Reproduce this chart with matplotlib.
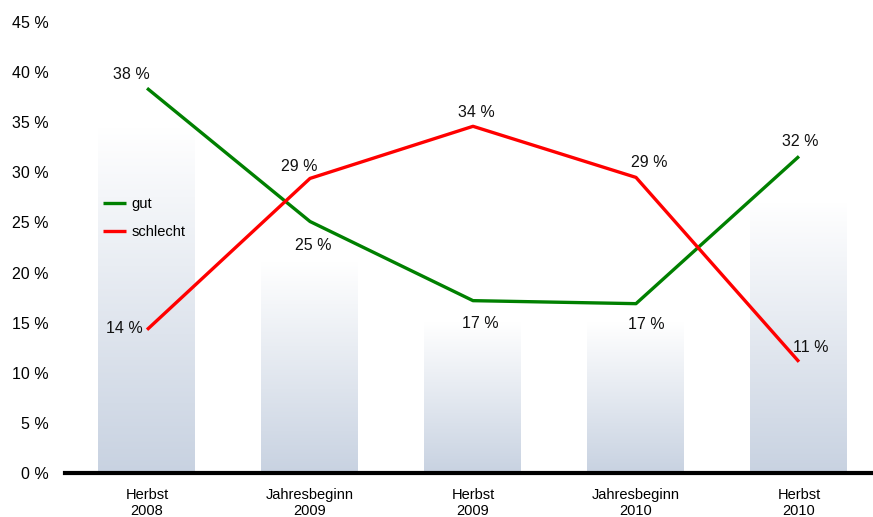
import numpy as np
import matplotlib
matplotlib.use("Agg")
import matplotlib.pyplot as plt
from matplotlib.colors import LinearSegmentedColormap

plt.rcParams['font.family'] = ['Liberation Sans', 'DejaVu Sans']

categories = ["Herbst\n2008", "Jahresbeginn\n2009", "Herbst\n2009", "Jahresbeginn\n2010", "Herbst\n2010"]
gut = [38.4, 25.1, 17.2, 16.9, 31.6]
schlecht = [14.3, 29.4, 34.6, 29.5, 11.1]
gut_labels = ["38 %", "25 %", "17 %", "17 %", "32 %"]
schlecht_labels = ["14 %", "29 %", "34 %", "29 %", "11 %"]
background = [34.5, 21.0, 15.0, 15.0, 27.0]
yticks = [0, 5, 10, 15, 20, 25, 30, 35, 40, 45]
ytick_labels = [f"{v} %" for v in yticks]

W, H = 873, 517
fig = plt.figure(figsize=(W / 100, H / 100), dpi=100)
ax = fig.add_axes([65 / W, (H - 473) / H, (W - 65) / W, 473 / H])

x = np.arange(len(categories))
bar_w = 0.59
cmap = LinearSegmentedColormap.from_list("bg", ["#ffffff", "#c8d2e1"])
grad = np.linspace(0, 1, 256).reshape(-1, 1)
for xi, h in zip(x, background):
    ax.imshow(grad, extent=[xi - bar_w / 2 - 0.005, xi + bar_w / 2 - 0.005, 0, h], origin="upper",
              aspect="auto", cmap=cmap, vmin=0, vmax=1, zorder=0.5)

ax.plot(x, gut, color="#008000", lw=2.4, label="gut", zorder=3, solid_capstyle="butt")
ax.plot(x, schlecht, color="#ff0000", lw=2.4, label="schlecht", zorder=3, solid_capstyle="butt")

gut_off = [(-16, 14), (3, -24), (7, -23), (10, -21), (1, 15)]
sch_off = [(-23, 1), (-11, 12), (3, 14), (13, 15), (12, 14)]
for xi, v, lab, off in zip(x, gut, gut_labels, gut_off):
    ax.annotate(lab, (xi, v), xytext=off, textcoords="offset pixels",
                ha="center", va="center", fontsize=11.5, color="#111111", zorder=4)
for xi, v, lab, off in zip(x, schlecht, schlecht_labels, sch_off):
    ax.annotate(lab, (xi, v), xytext=off, textcoords="offset pixels",
                ha="center", va="center", fontsize=11.5, color="#111111", zorder=4)

unit = 162.9
ax.set_xlim(-(147 - 65) / unit, 4 + (W - 799) / unit)
ax.set_ylim(0, 473 / 10.02)
ax.set_yticks(yticks)
ax.set_yticklabels(ytick_labels, fontsize=11.5)
ax.set_xticks(x)
ax.set_xticklabels(categories, fontsize=10.5, linespacing=1.2)
ax.tick_params(axis="both", length=0)
ax.tick_params(axis="y", pad=12)
ax.tick_params(axis="x", pad=11)
for s in ["top", "right", "left"]:
    ax.spines[s].set_visible(False)
ax.spines["bottom"].set_linewidth(3)
ax.spines["bottom"].set_zorder(5)

leg = ax.legend(loc="upper left", bbox_to_anchor=((97 - 65) / (W - 65), 1 - 191 / 473),
                frameon=False, fontsize=10.5, handlelength=1.6, handletextpad=0.35,
                labelspacing=1.0, borderaxespad=0)

fig.savefig("out.png", dpi=100)
